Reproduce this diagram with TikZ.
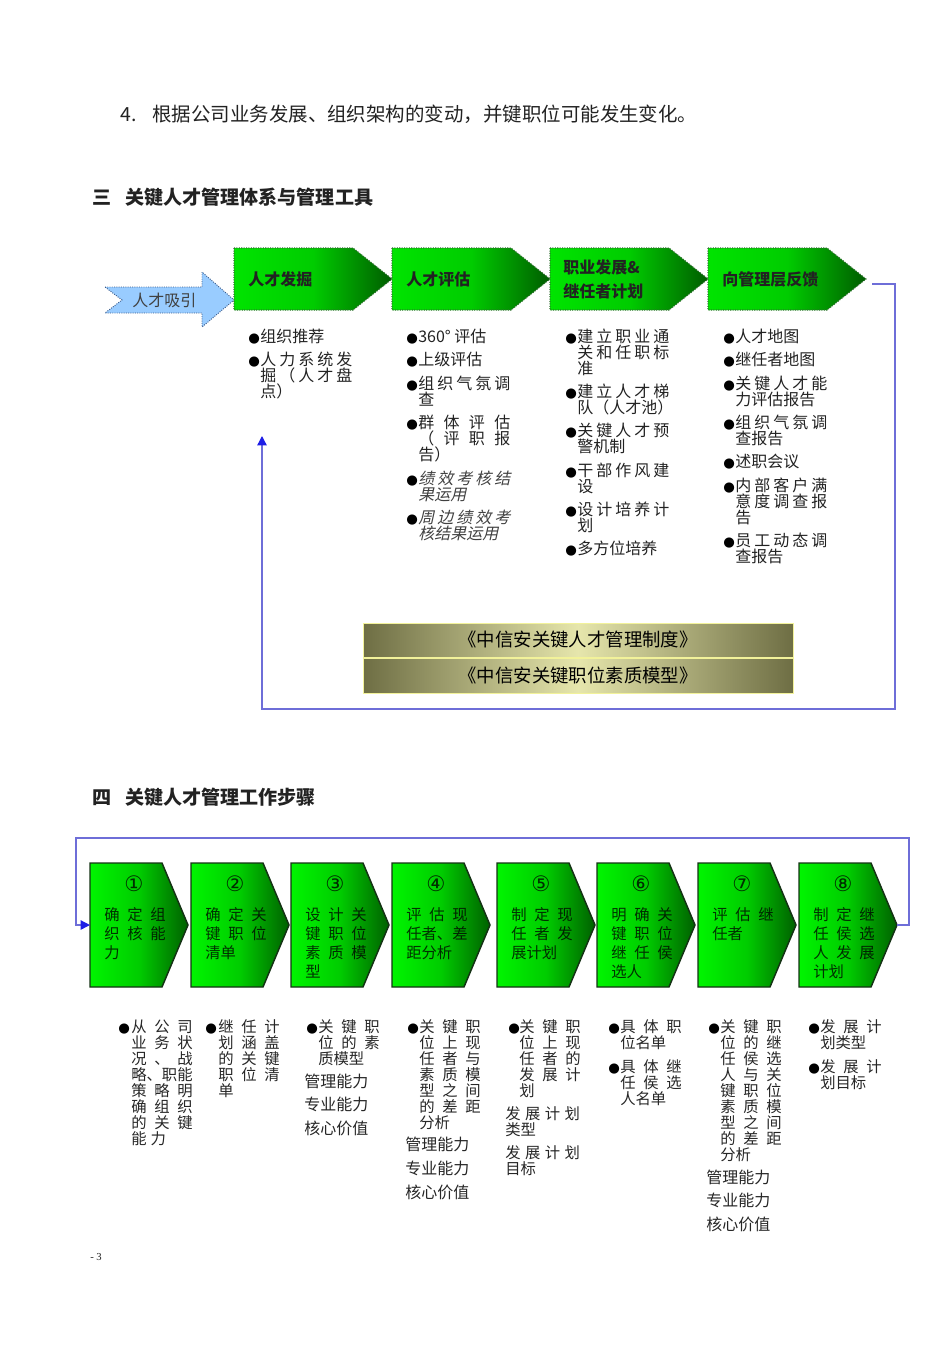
\documentclass[tikz,border=0pt]{standalone}
\usepackage{fontspec}
\setmainfont{Noto Sans CJK SC}
\newfontfamily\slantf{Noto Sans CJK SC}[FakeSlant=0.22]
\newfontfamily\dvf{DejaVu Sans}
\newfontfamily\lserif{Liberation Serif}
\usetikzlibrary{arrows.meta}
\definecolor{txtc}{HTML}{222222}
\definecolor{ltblue}{HTML}{99CCFF}
\definecolor{ltblueD}{HTML}{3A5A8A}
\definecolor{gA}{HTML}{00E400}
\definecolor{gB}{HTML}{00CC00}
\definecolor{gC}{HTML}{005C00}
\definecolor{gD}{HTML}{2F6F2F}
\definecolor{bA}{HTML}{00F500}
\definecolor{bB}{HTML}{00CC00}
\definecolor{bC}{HTML}{006000}
\definecolor{bD}{HTML}{143214}
\definecolor{olD}{HTML}{6E6E44}
\definecolor{olL}{HTML}{E6E6AC}
\definecolor{olB}{HTML}{F2F29A}
\definecolor{lineblue}{HTML}{6E6ED8}
\definecolor{tipblue}{HTML}{1E1EE6}
\newcommand\fA{\fontsize{12}{12}\selectfont}
\newcommand\fB{\fontsize{11.5}{12}\selectfont}
\newcommand\fC{\fontsize{11.5}{12}\selectfont}
\newcommand\fH{\fontsize{14.3}{16}\selectfont\bfseries}
\newcommand\fL{\fontsize{12}{12}\selectfont\bfseries}
\newcommand\fD{\fontsize{13.8}{14}\selectfont}
\newcounter{tn}
\newcommand\T[3][]{\stepcounter{tn}\node[tx,#1] (n\arabic{tn}) at (#2) {#3};}
\newcommand\J[2]{\makebox[#1][s]{#2}}
\newcommand\Bu[1]{\T[font=\dvf\fontsize{10}{10}\selectfont,text=black]{#1}{●}}
\newcommand\TA[2]{\T[font=\fA]{#1}{#2}}
\newcommand\TS[2]{\T[font=\slantf\fA,text=black!75]{#1}{#2}}
\newcommand\TB[2]{\T[font=\fB,text=black!85]{#1}{#2}}
\newcommand\TM[2]{\T[font=\fA,text=black!85]{#1}{#2}}
\newcommand\BoxT[2]{\T[font=\fC,text=black,text opacity=.78]{#1}{#2}}
\newcommand\BoxN[2]{\T[font=\dvf\fontsize{16}{16}\selectfont,text=black,text opacity=.78,anchor=base]{#1}{#2}}
\newcommand\gtop[2]{%
  \path[left color=gA, right color=gC, middle color=gB, draw=gD, densely dotted, line width=0.8pt]
    (#1,248) -- ++(119,0) -- ++(39,31) -- ++(-39,31) -- ++(-119,0) -- cycle;
  \coordinate (#2) at (#1+158,279);}
\newcommand\gbot[2]{%
  \path[left color=bA, right color=bC, middle color=bB, draw=bD, line width=1.1pt]
    (#1,863) -- ++(72,0) -- ++(26,62) -- ++(-26,62) -- ++(-72,0) -- cycle;
  \coordinate (#2in) at (#1,925);
  \coordinate (#2tip) at (#1+98,925);}
\begin{document}
\begin{tikzpicture}[x=0.75pt,y=-0.75pt,
  tx/.style={inner sep=0pt,anchor=base west,text=txtc},
  gold/.style={minimum width=322.5pt,inner sep=0pt,left color=olD,right color=olD,middle color=olL,draw=olB,line width=0.6pt,font=\fD,text=black},
  conn/.style={draw=lineblue,line width=1pt,-{Triangle[width=7pt,length=7pt,color=tipblue]}}]
\useasboundingbox (0,0) rectangle (950,1345);

% header texts
\T[font=\fontsize{14.6}{16}\selectfont]{120,122}{4.}
\T[font=\fontsize{14.6}{16}\selectfont]{152,122}{根据公司业务发展、组织架构的变动，并键职位可能发生变化。}
\T[font=\fH]{92,204}{三}
\T[font=\fH]{125,204}{关键人才管理体系与管理工具}
\T[font=\fH]{92,804}{四}
\T[font=\fH]{125,804}{关键人才管理工作步骤}

% blue attract arrow
\path[fill=ltblue,draw=ltblueD,densely dotted,line width=0.7pt]
  (105,287) -- (202,287) -- (202,272) -- (234,300) -- (202,327) -- (202,313) -- (105,313) -- (122,300) -- cycle;
\T[font=\fA,text=black!75]{132,306}{人才吸引}

% top green boxes
\gtop{234}{tA}
\gtop{392}{tB}
\gtop{550}{tC}
\gtop{708}{tD}
\T[font=\fL]{248,285}{人才发掘}
\T[font=\fL]{406,285}{人才评估}
\T[font=\fL]{563,273}{职业发展\&}
\T[font=\fL]{563,297}{继任者计划}
\T[font=\fL]{722,285}{向管理层反馈}

% column 1
\Bu{248,342} \TA{260,342}{组织推荐}
\Bu{248,365} \TA{260,365}{\J{69pt}{人\hfil 力\hfil 系\hfil 统\hfil 发}}
\TA{260,381}{\J{69pt}{掘\hfil （\hfil 人\hfil 才\hfil 盘}}
\TA{260,397}{点）}

% column 2
\Bu{406,342} \TA{418,342}{360° 评估}
\Bu{406,365} \TA{418,365}{上级评估}
\Bu{406,389} \TA{418,389}{\J{69pt}{组\hfil 织\hfil 气\hfil 氛\hfil 调}}
\TA{418,405}{查}
\Bu{406,428} \TA{418,428}{\J{69pt}{群\hfil 体\hfil 评\hfil 估}}
\TA{418,444}{\J{69pt}{（\hfil 评\hfil 职\hfil 报}}
\TA{418,460}{告）}
\Bu{406,484} \TS{418,484}{\J{69pt}{绩\hfil 效\hfil 考\hfil 核\hfil 结}}
\TS{418,500}{果运用}
\Bu{406,523} \TS{418,523}{\J{69pt}{周\hfil 边\hfil 绩\hfil 效\hfil 考}}
\TS{418,539}{核结果运用}

% column 3
\Bu{565,342} \TA{577,342}{\J{69pt}{建\hfil 立\hfil 职\hfil 业\hfil 通}}
\TA{577,358}{\J{69pt}{关\hfil 和\hfil 任\hfil 职\hfil 标}}
\TA{577,374}{准}
\Bu{565,397} \TA{577,397}{\J{69pt}{建\hfil 立\hfil 人\hfil 才\hfil 梯}}
\TA{577,413}{队（人才池）}
\Bu{565,436} \TA{577,436}{\J{69pt}{关\hfil 键\hfil 人\hfil 才\hfil 预}}
\TA{577,452}{警机制}
\Bu{565,476} \TA{577,476}{\J{69pt}{干\hfil 部\hfil 作\hfil 风\hfil 建}}
\TA{577,492}{设}
\Bu{565,515} \TA{577,515}{\J{69pt}{设\hfil 计\hfil 培\hfil 养\hfil 计}}
\TA{577,531}{划}
\Bu{565,554} \TA{577,554}{多方位培养}

% column 4
\Bu{723,342} \TA{735,342}{人才地图}
\Bu{723,365} \TA{735,365}{继任者地图}
\Bu{723,389} \TA{735,389}{\J{69pt}{关\hfil 键\hfil 人\hfil 才\hfil 能}}
\TA{735,405}{力评估报告}
\Bu{723,428} \TA{735,428}{\J{69pt}{组\hfil 织\hfil 气\hfil 氛\hfil 调}}
\TA{735,444}{查报告}
\Bu{723,467} \TA{735,467}{述职会议}
\Bu{723,491} \TA{735,491}{\J{69pt}{内\hfil 部\hfil 客\hfil 户\hfil 满}}
\TA{735,507}{\J{69pt}{意\hfil 度\hfil 调\hfil 查\hfil 报}}
\TA{735,523}{告}
\Bu{723,546} \TA{735,546}{\J{69pt}{员\hfil 工\hfil 动\hfil 态\hfil 调}}
\TA{735,562}{查报告}

% gold bars
\node[gold,minimum height=25.5pt] (bar1) at (578,640) {《中信安关键人才管理制度》};
\node[gold,minimum height=26.25pt] (bar2) at (578,675.5) {《中信安关键职位素质模型》};

% top feedback connector
\coordinate (topS) at (872,284);
\coordinate (topE) at (262,436);
\draw[conn] (topS) -- (895,284) -- (895,709) -- (262,709) -- (topE);

% bottom step boxes
\gbot{90}{s1}
\gbot{191}{s2}
\gbot{291}{s3}
\gbot{392}{s4}
\gbot{497}{s5}
\gbot{597}{s6}
\gbot{698}{s7}
\gbot{799}{s8}

\BoxN{134,891}{①}
\BoxT{104,920}{\J{46pt}{确\hfil 定\hfil 组}}
\BoxT{104,939}{\J{46pt}{织\hfil 核\hfil 能}}
\BoxT{104,958}{力}

\BoxN{235,891}{②}
\BoxT{205,920}{\J{46pt}{确\hfil 定\hfil 关}}
\BoxT{205,939}{\J{46pt}{键\hfil 职\hfil 位}}
\BoxT{205,958}{清单}

\BoxN{335,891}{③}
\BoxT{305,920}{\J{46pt}{设\hfil 计\hfil 关}}
\BoxT{305,939}{\J{46pt}{键\hfil 职\hfil 位}}
\BoxT{305,958}{\J{46pt}{素\hfil 质\hfil 模}}
\BoxT{305,977}{型}

\BoxN{436,891}{④}
\BoxT{406,920}{\J{46pt}{评\hfil 估\hfil 现}}
\BoxT{406,939}{任者、差}
\BoxT{406,958}{距分析}

\BoxN{541,891}{⑤}
\BoxT{511,920}{\J{46pt}{制\hfil 定\hfil 现}}
\BoxT{511,939}{\J{46pt}{任\hfil 者\hfil 发}}
\BoxT{511,958}{展计划}

\BoxN{641,891}{⑥}
\BoxT{611,920}{\J{46pt}{明\hfil 确\hfil 关}}
\BoxT{611,939}{\J{46pt}{键\hfil 职\hfil 位}}
\BoxT{611,958}{\J{46pt}{继\hfil 任\hfil 侯}}
\BoxT{611,977}{选人}

\BoxN{742,891}{⑦}
\BoxT{712,920}{\J{46pt}{评\hfil 估\hfil 继}}
\BoxT{712,939}{任者}

\BoxN{843,891}{⑧}
\BoxT{813,920}{\J{46pt}{制\hfil 定\hfil 继}}
\BoxT{813,939}{\J{46pt}{任\hfil 侯\hfil 选}}
\BoxT{813,958}{\J{46pt}{人\hfil 发\hfil 展}}
\BoxT{813,977}{计划}

% bottom loop connector
\coordinate (botS) at (s8tip);
\draw[conn] (botS) -- (909,925) -- (909,838) -- (76,838) -- (76,925) -- (s1in);

% bottom columns
% col 1
\Bu{118,1032} \TB{131,1032}{\J{46pt}{从\hfil 公\hfil 司}}
\TB{131,1048}{\J{46pt}{业\hfil 务\hfil 状}}
\TB{131,1064}{\J{46pt}{况\hfil 、\hfil 战}}
\TB{131,1080}{\J{46pt}{略、职\hfil 能}}
\TB{131,1096}{\J{46pt}{策\hfil 略\hfil 明}}
\TB{131,1112}{\J{46pt}{确\hfil 组\hfil 织}}
\TB{131,1128}{\J{46pt}{的\hfil 关\hfil 键}}
\TB{131,1144}{能\hspace{3pt}力}
% col 2
\Bu{205,1032} \TB{218,1032}{\J{46pt}{继\hfil 任\hfil 计}}
\TB{218,1048}{\J{46pt}{划\hfil 涵\hfil 盖}}
\TB{218,1064}{\J{46pt}{的\hfil 关\hfil 键}}
\TB{218,1080}{\J{46pt}{职\hfil 位\hfil 清}}
\TB{218,1096}{单}
% col 3
\Bu{306,1032} \TB{318,1032}{\J{46pt}{关\hfil 键\hfil 职}}
\TB{318,1048}{\J{46pt}{位\hfil 的\hfil 素}}
\TB{318,1064}{质模型}
\TM{304,1087}{管理能力}
\TM{304,1110}{专业能力}
\TM{304,1134}{核心价值}
% col 4
\Bu{407,1032} \TB{419,1032}{\J{46pt}{关\hfil 键\hfil 职}}
\TB{419,1048}{\J{46pt}{位\hfil 上\hfil 现}}
\TB{419,1064}{\J{46pt}{任\hfil 者\hfil 与}}
\TB{419,1080}{\J{46pt}{素\hfil 质\hfil 模}}
\TB{419,1096}{\J{46pt}{型\hfil 之\hfil 间}}
\TB{419,1112}{\J{46pt}{的\hfil 差\hfil 距}}
\TB{419,1128}{分析}
\TM{405,1150}{管理能力}
\TM{405,1174}{专业能力}
\TM{405,1198}{核心价值}
% col 5
\Bu{508,1032} \TB{519,1032}{\J{46pt}{关\hfil 键\hfil 职}}
\TB{519,1048}{\J{46pt}{位\hfil 上\hfil 现}}
\TB{519,1064}{\J{46pt}{任\hfil 者\hfil 的}}
\TB{519,1080}{\J{46pt}{发\hfil 展\hfil 计}}
\TB{519,1096}{划}
\TB{505,1119}{\J{56pt}{发\hfil 展\hfil 计\hfil 划}}
\TB{505,1135}{类型}
\TB{505,1158}{\J{56pt}{发\hfil 展\hfil 计\hfil 划}}
\TB{505,1174}{目标}
% col 6
\Bu{608,1032} \TB{620,1032}{\J{46pt}{具\hfil 体\hfil 职}}
\TB{620,1048}{位名单}
\Bu{608,1072} \TB{620,1072}{\J{46pt}{具\hfil 体\hfil 继}}
\TB{620,1088}{\J{46pt}{任\hfil 侯\hfil 选}}
\TB{620,1104}{人名单}
% col 7
\Bu{708,1032} \TB{720,1032}{\J{46pt}{关\hfil 键\hfil 职}}
\TB{720,1048}{\J{46pt}{位\hfil 的\hfil 继}}
\TB{720,1064}{\J{46pt}{任\hfil 侯\hfil 选}}
\TB{720,1080}{\J{46pt}{人\hfil 与\hfil 关}}
\TB{720,1096}{\J{46pt}{键\hfil 职\hfil 位}}
\TB{720,1112}{\J{46pt}{素\hfil 质\hfil 模}}
\TB{720,1128}{\J{46pt}{型\hfil 之\hfil 间}}
\TB{720,1144}{\J{46pt}{的\hfil 差\hfil 距}}
\TB{720,1160}{分析}
\TM{706,1183}{管理能力}
\TM{706,1206}{专业能力}
\TM{706,1230}{核心价值}
% col 8
\Bu{808,1032} \TB{820,1032}{\J{46pt}{发\hfil 展\hfil 计}}
\TB{820,1048}{划类型}
\Bu{808,1072} \TB{820,1072}{\J{46pt}{发\hfil 展\hfil 计}}
\TB{820,1088}{划目标}

% page number
\T[font=\lserif\fontsize{8}{8}\selectfont]{90,1260}{- 3}
\end{tikzpicture}
\end{document}
